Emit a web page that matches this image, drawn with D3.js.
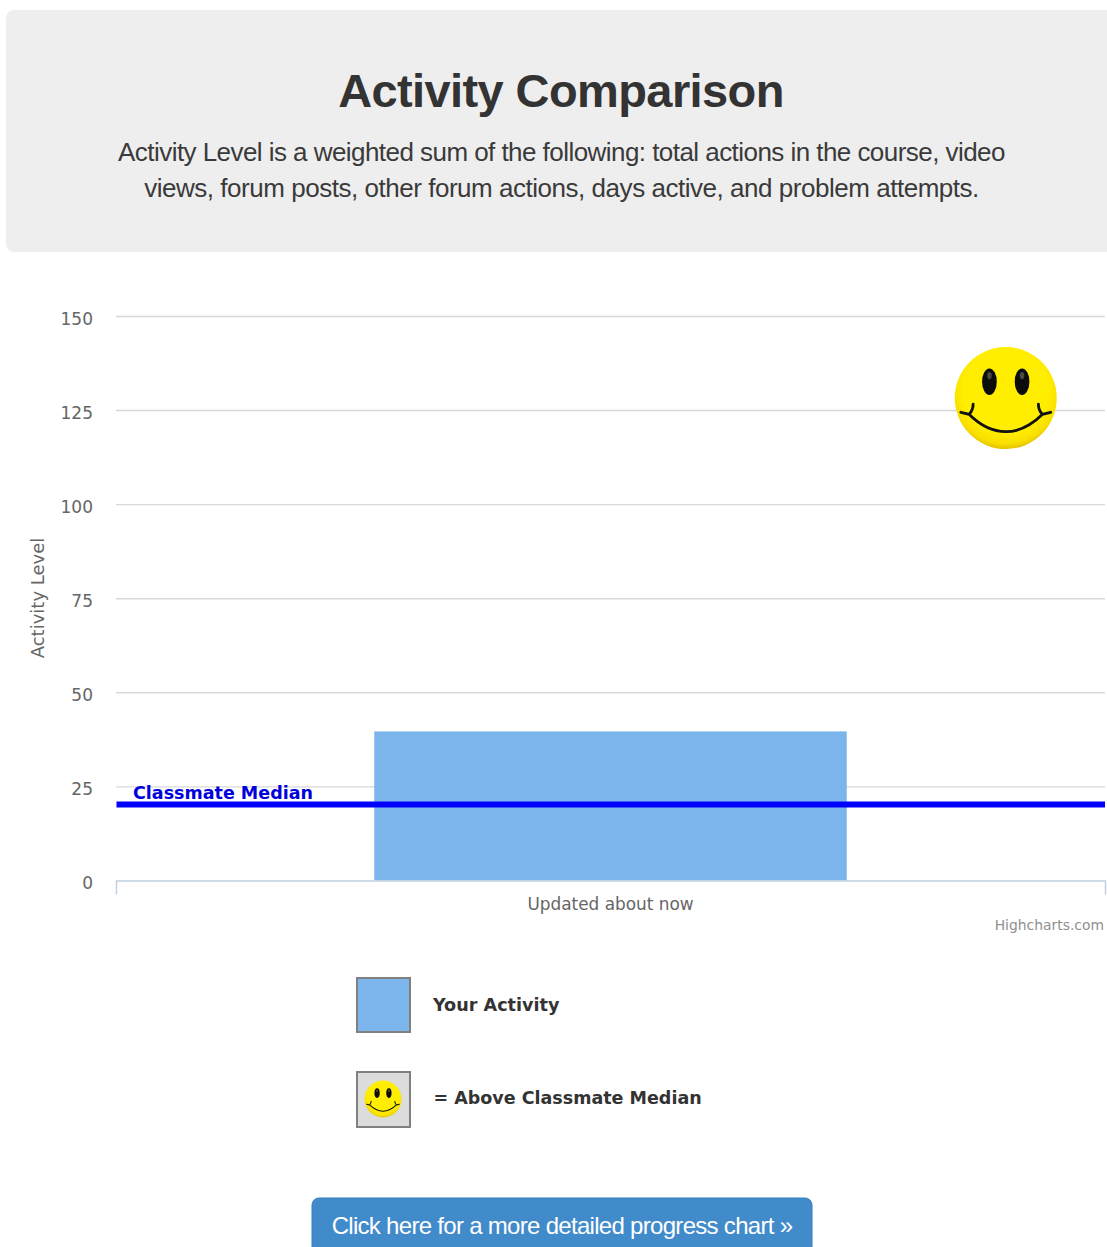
<!DOCTYPE html>
<html>
<head>
<meta charset="utf-8">
<title>Activity Comparison</title>
<script src="https://d3js.org/d3.v7.min.js"></script>
<style>
  html, body { margin: 0; padding: 0; background: #fff; }
  svg { display: block; }
  .chart-text { font-family: "DejaVu Sans", sans-serif; }
  .head-text { font-family: "Liberation Sans", Arial, sans-serif; }
</style>
</head>
<body>
<div id="d3-container"></div>
<script>
var categories = ["Updated about now"];
var activityValues = [39.6];
var medianValue = 20.2;
var smileyValue = 128.2;
var yTicks = [0, 25, 50, 75, 100, 125, 150];
var introLines = [
  "Activity Level is a weighted sum of the following: total actions in the course, video",
  "views, forum posts, other forum actions, days active, and problem attempts."
];

var width = 1107, height = 1247;
var margin = {top: 316, right: 2, bottom: 366.6, left: 116};
var plotW = width - margin.left - margin.right;
var plotH = height - margin.top - margin.bottom;

var svg = d3.select("#d3-container").append("svg")
    .attr("width", width)
    .attr("height", height);

var defs = svg.append("defs");
var grad = defs.append("radialGradient")
    .attr("id", "smiley-fill")
    .attr("cx", "0.5").attr("cy", "0.42").attr("r", "0.6");
grad.append("stop").attr("offset", "0.7").attr("stop-color", "#ffee00");
grad.append("stop").attr("offset", "0.88").attr("stop-color", "#f9df00");
grad.append("stop").attr("offset", "1").attr("stop-color", "#dcb800");

// smiley is drawn in a 100 unit box and scaled to r
function smiley(sel, cx, cy, r) {
  var k = r / 50;
  var g = sel.append("g").attr("transform", "translate(" + cx + "," + cy + ") scale(" + k + ")");
  g.append("circle").attr("r", 50).attr("fill", "url(#smiley-fill)");
  [-16, 16].forEach(function(ex) {
    g.append("ellipse").attr("cx", ex).attr("cy", -16).attr("rx", 7.2).attr("ry", 13).attr("fill", "#0c0c0c");
    g.append("ellipse").attr("cx", ex).attr("cy", -22).attr("rx", 2.2).attr("ry", 3.6).attr("fill", "#4a4a44");
  });
  g.append("path")
    .attr("d", "M-44,14 L-36,16 C-24,28 -12,33 0,33 C12,33 24,28 36,16 L44,14 M-36,16 Q-32,12 -32,6 M36,16 Q32,12 32,6")
    .attr("fill", "none")
    .attr("stroke", "#111")
    .attr("stroke-width", 2.8)
    .attr("stroke-linecap", "round");
}

// header panel
svg.append("rect")
    .attr("x", 6).attr("y", 10)
    .attr("width", 1120).attr("height", 242)
    .attr("rx", 8)
    .attr("fill", "#eeeeee");

svg.append("text")
    .attr("class", "head-text")
    .attr("x", 561).attr("y", 107)
    .attr("text-anchor", "middle")
    .attr("font-size", 47)
    .attr("font-weight", "bold")
    .attr("letter-spacing", -0.6)
    .attr("fill", "#333")
    .text("Activity Comparison");

svg.selectAll(".intro")
    .data(introLines)
  .enter().append("text")
    .attr("class", "intro head-text")
    .attr("x", 561.5)
    .attr("y", function(d, i) { return 161 + i * 36; })
    .attr("text-anchor", "middle")
    .attr("font-size", 26)
    .attr("letter-spacing", function(d, i) { return i ? -0.47 : -0.55; })
    .attr("fill", "#3a3a3a")
    .text(function(d) { return d; });

var plot = svg.append("g")
    .attr("transform", "translate(" + margin.left + "," + margin.top + ")");

var x = d3.scaleBand()
    .domain(categories)
    .range([0, plotW])
    .padding(0.3534);

var y = d3.scaleLinear()
    .domain([0, 150])
    .range([plotH, 0]);

// gridlines and value labels
var yAxis = plot.append("g")
    .attr("class", "chart-text")
    .call(d3.axisLeft(y).tickValues(yTicks).tickSize(-plotW).tickPadding(23));
yAxis.select(".domain").remove();
yAxis.selectAll(".tick line")
    .attr("stroke", "#d8d8d8")
    .attr("stroke-width", 1.4)
    .filter(function(d) { return d === 0; }).remove();
yAxis.selectAll(".tick text")
    .attr("font-size", 17)
    .attr("fill", "#666")
    .attr("dy", "0.48em");

plot.selectAll(".bar")
    .data(activityValues)
  .enter().append("rect")
    .attr("class", "bar")
    .attr("x", function(d, i) { return x(categories[i]); })
    .attr("y", function(d) { return y(d); })
    .attr("width", x.bandwidth())
    .attr("height", function(d) { return y(0) - y(d); })
    .attr("fill", "#7cb5ec");

// category axis, outer ticks come from the domain path
var xAxis = plot.append("g")
    .attr("class", "chart-text")
    .attr("transform", "translate(0," + plotH + ")")
    .call(d3.axisBottom(x).tickSizeInner(0).tickSizeOuter(14).tickPadding(18));
xAxis.select(".domain")
    .attr("stroke", "#c0d0e0")
    .attr("stroke-width", 1.5);
xAxis.selectAll(".tick line").remove();
xAxis.selectAll(".tick text")
    .attr("font-size", 16.9)
    .attr("fill", "#666");

// classmate median
plot.append("line")
    .attr("x1", 0.5).attr("x2", plotW)
    .attr("y1", y(medianValue)).attr("y2", y(medianValue))
    .attr("stroke", "#0000ff")
    .attr("stroke-width", 6);

plot.append("text")
    .attr("class", "chart-text")
    .attr("x", 17)
    .attr("y", y(medianValue) - 5.5)
    .attr("font-size", 17.5)
    .attr("font-weight", "bold")
    .attr("fill", "#0000dd")
    .text("Classmate Median");

smiley(plot, x(categories[0]) + x.bandwidth() + 159, y(smileyValue), 51);

svg.append("text")
    .attr("class", "chart-text")
    .attr("x", 1104).attr("y", 930)
    .attr("text-anchor", "end")
    .attr("font-size", 13.9)
    .attr("fill", "#909090")
    .text("Highcharts.com");

var axisTitleY = 598;
svg.append("text")
    .attr("class", "chart-text")
    .attr("transform", "translate(44," + axisTitleY + ") rotate(-90)")
    .attr("text-anchor", "middle")
    .attr("font-size", 18)
    .attr("fill", "#666")
    .text("Activity Level");

// legend boxes
svg.append("rect")
    .attr("x", 357).attr("y", 978).attr("width", 53).attr("height", 54)
    .attr("fill", "#7cb5ec")
    .attr("stroke", "#808080").attr("stroke-width", 2);

svg.append("rect")
    .attr("x", 357).attr("y", 1072).attr("width", 53).attr("height", 55)
    .attr("fill", "#dcdcdc")
    .attr("stroke", "#808080").attr("stroke-width", 2);

smiley(svg, 383, 1099, 18.5);

svg.append("text")
    .attr("class", "chart-text")
    .attr("x", 433).attr("y", 1011)
    .attr("font-size", 17.6)
    .attr("font-weight", "bold")
    .attr("fill", "#333")
    .text("Your Activity");

svg.append("text")
    .attr("class", "chart-text")
    .attr("x", 433.5).attr("y", 1104)
    .attr("font-size", 17.5)
    .attr("font-weight", "bold")
    .attr("fill", "#333")
    .text("= Above Classmate Median");

// link button runs off the bottom edge
svg.append("rect")
    .attr("x", 312).attr("y", 1198)
    .attr("width", 500).attr("height", 70)
    .attr("rx", 7)
    .attr("fill", "#428bca")
    .attr("stroke", "#357ebd");

svg.append("text")
    .attr("class", "head-text")
    .attr("x", 562).attr("y", 1234)
    .attr("text-anchor", "middle")
    .attr("font-size", 24)
    .attr("letter-spacing", -0.7)
    .attr("fill", "#fff")
    .text("Click here for a more detailed progress chart »");
</script>
</body>
</html>
